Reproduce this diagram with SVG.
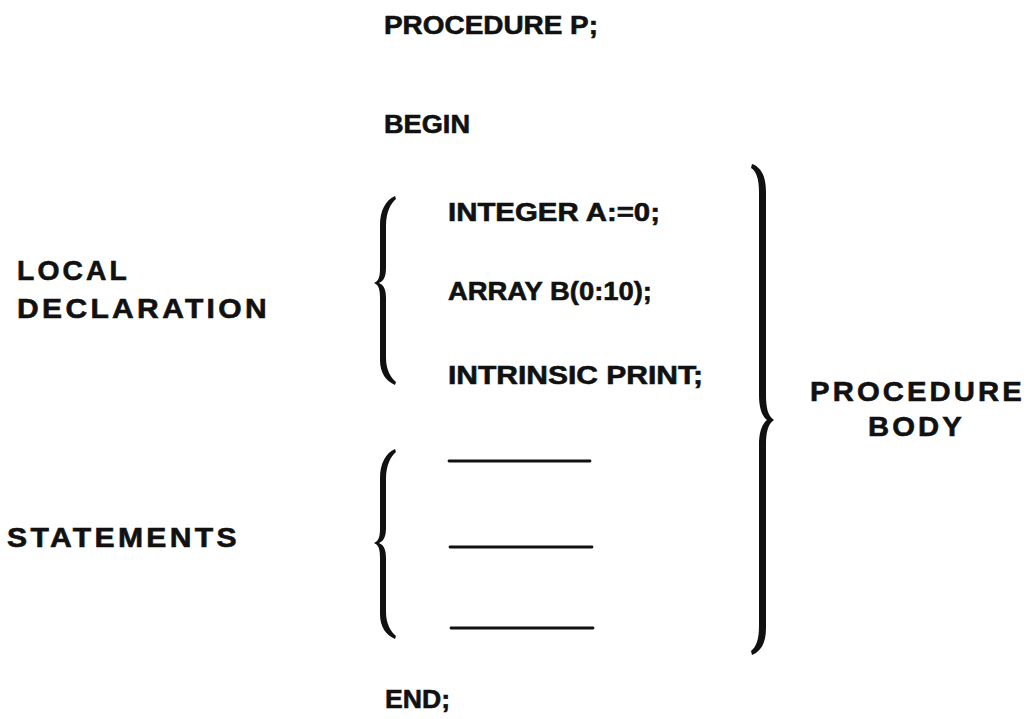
<svg xmlns="http://www.w3.org/2000/svg" width="1036" height="719" viewBox="0 0 1036 719">
  <style>
    text { font-family: "Liberation Sans", Arial, sans-serif; font-weight: bold; fill: #111; stroke: #111; stroke-width: 0.6; }
    .code { font-size: 26px; }
    .label { font-size: 27px; letter-spacing: 3px; }
    .big { font-size: 28px; letter-spacing: 3px; }
    .brace { fill: #111; }
    .blank { stroke: #111; stroke-width: 2.8; stroke-linecap: round; }
  </style>
  <rect width="1036" height="719" fill="#fff"/>

  <!-- program listing -->
  <g id="listing">
    <text class="code" x="384" y="34" textLength="214" lengthAdjust="spacingAndGlyphs">PROCEDURE P;</text>
    <text class="code" x="384" y="133" textLength="86" lengthAdjust="spacingAndGlyphs">BEGIN</text>
    <text class="code" x="448" y="221" textLength="212" lengthAdjust="spacingAndGlyphs">INTEGER A:=0;</text>
    <text class="code" x="448" y="300" textLength="204" lengthAdjust="spacingAndGlyphs">ARRAY B(0:10);</text>
    <text class="code" x="448" y="384" textLength="255" lengthAdjust="spacingAndGlyphs">INTRINSIC PRINT;</text>
    <text class="code" x="385" y="708" textLength="65" lengthAdjust="spacingAndGlyphs">END;</text>
  </g>

  <!-- placeholder statement lines -->
  <g id="statement-lines">
    <line class="blank" x1="449" y1="461" x2="590" y2="461"/>
    <line class="blank" x1="450" y1="547" x2="592" y2="547"/>
    <line class="blank" x1="451" y1="628" x2="593" y2="628"/>
  </g>

  <!-- side labels, letter-spaced -->
  <g id="local-declaration">
    <text class="label" x="17" y="280" textLength="113" lengthAdjust="spacingAndGlyphs">LOCAL</text>
    <text class="label" x="17" y="318" textLength="253" lengthAdjust="spacingAndGlyphs">DECLARATION</text>
  </g>
  <g id="statements">
    <text class="label" x="7" y="547" textLength="233" lengthAdjust="spacingAndGlyphs">STATEMENTS</text>
  </g>
  <g id="procedure-body">
    <text class="big" x="810" y="401" textLength="215" lengthAdjust="spacingAndGlyphs">PROCEDURE</text>
    <text class="big" x="868" y="436" textLength="97" lengthAdjust="spacingAndGlyphs">BODY</text>
  </g>

  <!-- curly braces grouping the sections -->
  <g id="braces">
    <path id="brace-decl" class="brace" d="M 395,196 C 386,200 380,210 380,225 L 380,268 C 380,276 379,281 374,283 C 379,285 380,290 380,298 L 380,360 C 380,373 386,381 395,385 L 396,382 C 391,378 386,370 386,358 L 386,298 C 386,290 384,285 379,283 C 384,281 386,276 386,268 L 386,226 C 386,212 391,203 396,199 Z"/>
    <path id="brace-stmt" class="brace" d="M 395,449 C 386,453 380,463 380,478 L 380,528 C 380,536 379,541 374,543 C 379,545 380,550 380,558 L 380,614 C 380,627 386,635 395,639 L 396,636 C 391,632 386,624 386,612 L 386,558 C 386,550 384,545 379,543 C 384,541 386,536 386,528 L 386,479 C 386,465 391,456 396,452 Z"/>
    <path id="brace-body" class="brace" d="M 752,164 C 761,167 766,176 766,192 L 766,395 C 766,408 768,416 774,420 C 768,424 766,432 766,445 L 766,628 C 766,643 761,651 752,655 L 751,651 C 756,647 759,640 759,626 L 759,445 C 759,432 762,424 767,420 C 762,416 759,408 759,395 L 759,192 C 759,178 756,171 751,168 Z"/>
  </g>
</svg>
